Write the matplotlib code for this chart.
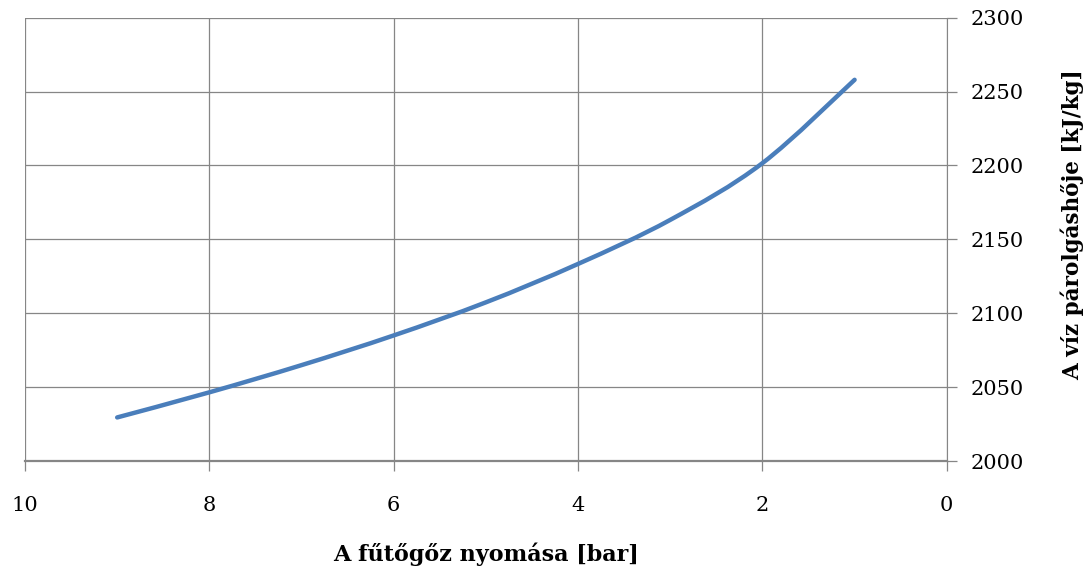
import numpy as np
import matplotlib
matplotlib.use("Agg")
import matplotlib.pyplot as plt
from matplotlib.path import Path
from matplotlib.patches import PathPatch

plt.rcParams['font.family'] = ['DejaVu Serif']

# Adatok: nyomás [bar] és párolgáshő [kJ/kg]
pressure = [1, 2, 3, 4, 5, 6, 7, 8, 9]
latent_heat = [2258, 2201.6, 2163.2, 2133.4, 2107.4, 2085.0, 2064.9, 2046.5, 2029.5]
x_ticks = [10, 8, 6, 4, 2, 0]
y_ticks = [2000, 2050, 2100, 2150, 2200, 2250, 2300]


# Excel-szerű simított vonal: Bezier-görbe a mért pontokon át
def smooth_path(x, y, t=1/6):
    p = np.column_stack([x, y]).astype(float)
    verts = [p[0]]
    codes = [Path.MOVETO]
    n = len(p)
    for i in range(n - 1):
        p0 = p[i - 1] if i > 0 else p[i]
        p3 = p[i + 2] if i + 2 < n else p[i + 1]
        c1 = p[i] + (p[i + 1] - p0) * t
        c2 = p[i + 1] - (p3 - p[i]) * t
        verts += [c1, c2, p[i + 1]]
        codes += [Path.CURVE4] * 3
    return Path(verts, codes)


fig = plt.figure(figsize=(10.87, 5.72), dpi=100)
ax = fig.add_axes([0.023, 0.194, 0.848, 0.775])

ax.add_patch(PathPatch(smooth_path(pressure, latent_heat), fill=False,
                       edgecolor='#4a7ebb', lw=3.2, capstyle='round', zorder=3))

ax.set_xlim(10, 0)
ax.set_ylim(2000, 2300)
ax.set_xticks(x_ticks)
ax.set_yticks(y_ticks)
ax.grid(True, color='#868686', lw=0.9)
ax.set_axisbelow(True)

ax.yaxis.tick_right()
ax.yaxis.set_label_position('right')
for s in ['top', 'left']:
    ax.spines[s].set_visible(False)
ax.spines['right'].set_color('#868686')
ax.spines['bottom'].set_color('#868686')
ax.spines['bottom'].set_linewidth(1.6)
ax.tick_params(axis='both', colors='#868686', labelcolor='black', labelsize=15,
               length=7, width=0.9)
ax.tick_params(axis='x', pad=18)
ax.tick_params(axis='y', pad=10)

ax.set_xlabel('A fűtőgőz nyomása [bar]', fontsize=16, fontweight='bold', labelpad=20)
ax.set_ylabel('A víz párolgáshője [kJ/kg]', fontsize=15.5, fontweight='bold')
ax.yaxis.set_label_coords(1.123, 0.533)

fig.savefig('out.png', dpi=100)
